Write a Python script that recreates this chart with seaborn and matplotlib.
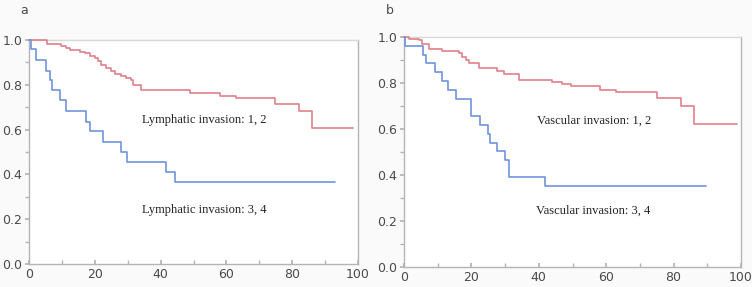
import matplotlib
matplotlib.use("Agg")
import matplotlib.pyplot as plt
from matplotlib.ticker import MultipleLocator
import seaborn as sns
import pandas as pd

# ---- data ----
a_low_t = [0, 5.5, 9.8, 11.3, 12.6, 15.4, 16.9, 18.4, 20, 21, 22, 23.3, 24.8, 26, 28,
           29.6, 31, 31.6, 34.1, 48.8, 58, 62.8, 74.7, 82, 86, 98.5]
a_low_s = [1.0, 0.982, 0.973, 0.965, 0.957, 0.948, 0.94, 0.93, 0.92, 0.905, 0.89, 0.875,
           0.86, 0.85, 0.84, 0.83, 0.82, 0.80, 0.777, 0.765, 0.751, 0.74, 0.716, 0.685,
           0.609, 0.609]
a_high_t = [0, 0.5, 2, 5.3, 6.5, 7.1, 9.3, 11.3, 17.2, 18.6, 22.5, 28, 29.9, 41.7, 44.3, 92.9]
a_high_s = [1.0, 0.958, 0.911, 0.862, 0.82, 0.777, 0.73, 0.683, 0.636, 0.594, 0.546, 0.5,
            0.457, 0.409, 0.367, 0.367]

b_low_t = [0, 1.5, 4.5, 5.4, 7.4, 11.4, 16.3, 17.1, 18.3, 19.3, 22.3, 27.7, 29.7, 34.2,
           44, 47, 49.5, 58.2, 62.9, 75, 82.3, 86.1, 98.8]
b_low_s = [1.0, 0.993, 0.985, 0.97, 0.95, 0.94, 0.93, 0.915, 0.9, 0.887, 0.865, 0.852,
           0.838, 0.815, 0.805, 0.795, 0.786, 0.771, 0.761, 0.736, 0.699, 0.62, 0.62]
b_high_t = [0, 0.3, 5.6, 6.4, 9.1, 11.4, 13.1, 15.3, 20, 22.5, 25, 25.4, 27.6, 29.9, 31.2,
            41.8, 89.6]
b_high_s = [1.0, 0.962, 0.92, 0.887, 0.848, 0.809, 0.771, 0.732, 0.655, 0.616, 0.58, 0.539,
            0.503, 0.467, 0.391, 0.352, 0.352]

panel_labels = ["a", "b"]
group_labels_a = ["Lymphatic invasion: 1, 2", "Lymphatic invasion: 3, 4"]
group_labels_b = ["Vascular invasion: 1, 2", "Vascular invasion: 3, 4"]
x_ticks = [0, 20, 40, 60, 80, 100]
y_ticks = [0.0, 0.2, 0.4, 0.6, 0.8, 1.0]

RED = "#e0808a"
BLUE = "#6f93dc"
SPINE = "#b4b4b4"
TXT = "#4a4a4a"

sns.set_theme(style="white")
plt.rcParams["font.family"] = ["DejaVu Sans"]

fig = plt.figure(figsize=(7.52, 2.87), dpi=100, facecolor="#fafafa")
ax_a = fig.add_axes([29 / 752, 1 - 264 / 287, (358 - 29) / 752, (264 - 40) / 287])
ax_b = fig.add_axes([404 / 752, 1 - 267 / 287, (741 - 404) / 752, (267 - 37) / 287])


def draw(ax, low_t, low_s, high_t, high_s, labels, label_pos, panel, panel_x):
    df = pd.concat([
        pd.DataFrame({"t": low_t, "s": low_s, "g": "low"}),
        pd.DataFrame({"t": high_t, "s": high_s, "g": "high"}),
    ])
    sns.lineplot(data=df, x="t", y="s", hue="g", palette={"low": RED, "high": BLUE},
                 drawstyle="steps-post", ax=ax, legend=False, linewidth=1.2,
                 estimator=None, sort=False)
    for ln in ax.get_lines():
        ln.set_clip_on(False)
        ln.set_zorder(3)
    ax.set_facecolor("white")
    ax.set_xlim(0, 100)
    ax.set_ylim(0, 1.0)
    ax.set_xlabel("")
    ax.set_ylabel("")
    ax.set_xticks(x_ticks)
    ax.set_yticks(y_ticks)
    ax.set_yticklabels([f"{v:.1f}" for v in y_ticks])
    ax.xaxis.set_minor_locator(MultipleLocator(10))
    ax.yaxis.set_minor_locator(MultipleLocator(0.1))
    for sp in ax.spines.values():
        sp.set_visible(True)
        sp.set_color(SPINE)
        sp.set_linewidth(1.0)
        sp.set_zorder(2)
    ax.spines["top"].set_color("#d8d8d8")
    ax.tick_params(axis="x", which="both", direction="in", length=3, color=SPINE,
                   labelsize=9, labelcolor=TXT, pad=3, bottom=True)
    ax.tick_params(axis="y", which="both", direction="out", length=3, color=SPINE,
                   labelsize=9, labelcolor=TXT, pad=2, left=True)
    for lab, (x, y) in zip(labels, label_pos):
        ax.text(x, y, lab, ha="center", va="center", fontsize=9,
                family="Liberation Serif", color="#222222")
    fig.text(panel_x, 1 - 10 / 287, panel, ha="left", va="center", fontsize=9, color=TXT)


draw(ax_a, a_low_t, a_low_s, a_high_t, a_high_s, group_labels_a,
     [(53.4, 0.643), (53.4, 0.241)], panel_labels[0], 20 / 752)
draw(ax_b, b_low_t, b_low_s, b_high_t, b_high_s, group_labels_b,
     [(56.4, 0.638), (56.1, 0.243)], panel_labels[1], 386 / 752)

fig.savefig("out.png", dpi=100, facecolor=fig.get_facecolor())
